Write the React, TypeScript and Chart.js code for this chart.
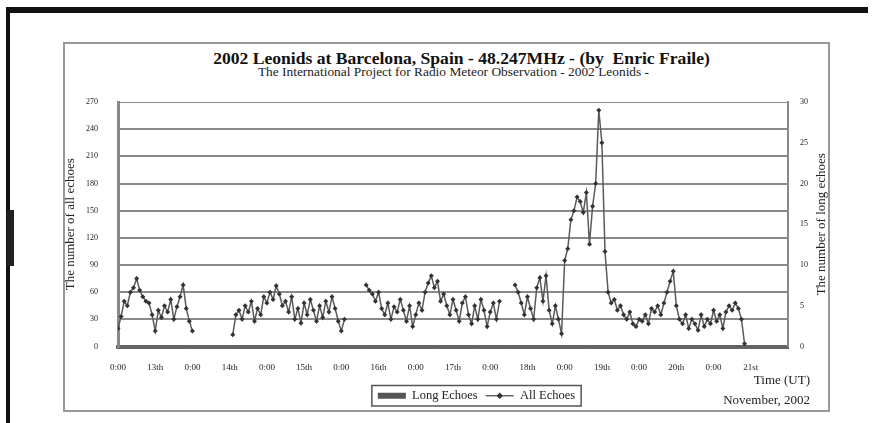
import React, { useEffect, useRef } from 'react';
import { Chart, registerables } from 'chart.js';

Chart.register(...registerables);

// ---- data ----
const xTickLabels = ['0:00', '13th', '0:00', '14th', '0:00', '15th', '0:00', '16th', '0:00', '17th', '0:00', '18th', '0:00', '19th', '0:00', '20th', '0:00', '21st'];
const totalHours = 216;
const leftTicksMax = 270;
const rightTicksMax = 30;
const rightAxisTitle = 'The number of long echoes';

// hour index where each observation run starts (hour 0 = left edge of the axis)
const runStarts = [0, 37, 80, 128];

const allEchoRun1 = [20, 33, 50, 45, 60, 65, 75, 62, 55, 50, 48, 35, 17, 40, 32, 45, 38, 52, 30, 44, 55, 68, 42, 28, 17];
const allEchoRun2 = [13, 35, 40, 30, 45, 38, 50, 28, 42, 35, 55, 48, 60, 52, 67, 58, 45, 50, 38, 55, 30, 42, 26, 48, 35, 52, 40, 28, 45, 32, 50, 38, 55, 42, 28, 17, 30];
const allEchoRun3 = [68, 62, 58, 50, 60, 42, 35, 48, 30, 44, 38, 52, 40, 28, 45, 22, 35, 48, 40, 60, 70, 78, 65, 72, 50, 58, 45, 35, 52, 40, 28, 48, 55, 35, 25, 45, 30, 52, 40, 22, 38, 48, 30, 50];
const allEchoRun4 = [68, 60, 48, 35, 55, 42, 30, 65, 76, 50, 78, 40, 25, 45, 30, 14, 95, 108, 140, 150, 165, 160, 148, 170, 113, 155, 180, 261, 225, 105, 60, 48, 52, 40, 45, 35, 30, 38, 25, 22, 30, 28, 35, 25, 42, 38, 45, 35, 48, 60, 72, 83, 45, 30, 25, 35, 20, 30, 25, 18, 35, 22, 30, 25, 40, 28, 35, 20, 38, 45, 40, 48, 42, 30, 3];

const longEchoRun1 = [0, 0, 0, 0, 0, 0, 0, 0, 0, 0, 0, 0, 0, 0, 0, 0, 0, 0, 0, 0, 0, 0, 0, 0, 0];
const longEchoRun2 = [0, 0, 0, 0, 0, 0, 0, 0, 0, 0, 0, 0, 0, 0, 0, 0, 0, 0, 0, 0, 0, 0, 0, 0, 0, 0, 0, 0, 0, 0, 0, 0, 0, 0, 0, 0, 0];
const longEchoRun3 = [0, 0, 0, 0, 0, 0, 0, 0, 0, 0, 0, 0, 0, 0, 0, 0, 0, 0, 0, 0, 0, 0, 0, 0, 0, 0, 0, 0, 0, 0, 0, 0, 0, 0, 0, 0, 0, 0, 0, 0, 0, 0, 0, 0];
const longEchoRun4 = [0, 0, 0, 0, 0, 0, 0, 0, 0, 0, 0, 0, 0, 0, 0, 0, 0, 0, 0, 0, 0, 0, 0, 0, 0, 0, 0, 0, 0, 0, 0, 0, 0, 0, 0, 0, 0, 0, 0, 0, 0, 0, 0, 0, 0, 0, 0, 0, 0, 0, 0, 0, 0, 0, 0, 0, 0, 0, 0, 0, 0, 0, 0, 0, 0, 0, 0, 0, 0, 0, 0, 0, 0, 0, 0];

const allEchoRuns = [allEchoRun1, allEchoRun2, allEchoRun3, allEchoRun4];
const longEchoRuns = [longEchoRun1, longEchoRun2, longEchoRun3, longEchoRun4];

function buildLine(runs: number[][]) {
  const pts: { x: number; y: number | null }[] = [];
  runs.forEach((run, r) => {
    if (r > 0) pts.push({ x: runStarts[r] - 0.5, y: null });
    run.forEach((v, i) => pts.push({ x: runStarts[r] + i, y: v }));
  });
  return pts;
}
function buildBars(runs: number[][]) {
  const pts: { x: number; y: number }[] = [];
  runs.forEach((run, r) => run.forEach((v, i) => pts.push({ x: runStarts[r] + i, y: v })));
  return pts;
}

const SERIF = '"Liberation Serif", "DejaVu Serif", "Times New Roman", serif';

const legendPlugin = {
  id: 'legendTweak',
  afterLayout(chart: any) {
    const lg = chart.legend;
    if (lg) {
      lg.left += 30;
      lg.right += 30;
    }
  },
  afterDraw(chart: any) {
    const ctx = chart.ctx;
    // right axis title, reading bottom-to-top
    const s = chart.scales.y1;
    if (s) {
      ctx.save();
      ctx.translate(s.right - 8, (s.top + s.bottom) / 2);
      ctx.rotate(-Math.PI / 2);
      ctx.font = `13px ${SERIF}`;
      ctx.fillStyle = '#222';
      ctx.textAlign = 'center';
      ctx.textBaseline = 'middle';
      ctx.fillText(rightAxisTitle, 0, 0);
      ctx.restore();
    }
    const lg = chart.legend;
    if (!lg || !lg.legendHitBoxes || !lg.legendHitBoxes.length) return;
    const boxes = lg.legendHitBoxes;
    let minL = Infinity, maxR = -Infinity, top = Infinity, bottom = -Infinity;
    boxes.forEach((b: any) => {
      minL = Math.min(minL, b.left);
      maxR = Math.max(maxR, b.left + b.width);
      top = Math.min(top, b.top);
      bottom = Math.max(bottom, b.top + b.height);
    });
    ctx.save();
    ctx.strokeStyle = '#555';
    ctx.lineWidth = 1.5;
    ctx.strokeRect(minL - 6, top - 4, maxR - minL + 12, bottom - top + 8);
    const b = boxes[1];
    const y = b.top + b.height / 2;
    ctx.strokeStyle = '#444';
    ctx.lineWidth = 1.2;
    ctx.beginPath();
    ctx.moveTo(b.left, y);
    ctx.lineTo(b.left + 28, y);
    ctx.stroke();
    ctx.fillStyle = '#333';
    const cx = b.left + 14;
    ctx.beginPath();
    ctx.moveTo(cx, y - 3.2);
    ctx.lineTo(cx + 3.2, y);
    ctx.lineTo(cx, y + 3.2);
    ctx.lineTo(cx - 3.2, y);
    ctx.closePath();
    ctx.fill();
    ctx.restore();
  },
};

export default function App() {
  const ref = useRef<HTMLCanvasElement | null>(null);

  useEffect(() => {
    if (!ref.current) return;
    const chart = new Chart(ref.current, {
      type: 'line',
      data: {
        datasets: [
          {
            type: 'bar',
            label: 'Long Echoes',
            data: buildBars(longEchoRuns) as any,
            yAxisID: 'y1',
            backgroundColor: '#555',
            borderWidth: 0,
            barPercentage: 1,
            categoryPercentage: 1,
          },
          {
            type: 'line',
            label: 'All Echoes',
            data: buildLine(allEchoRuns) as any,
            yAxisID: 'y',
            borderColor: '#5a5a5a',
            borderWidth: 1.5,
            pointStyle: 'rectRot',
            pointRadius: 2.5,
            pointBackgroundColor: '#333',
            pointBorderColor: '#333',
            pointBorderWidth: 0,
            spanGaps: false,
            tension: 0,
          },
        ],
      },
      options: {
        responsive: false,
        animation: false,
        events: [],
        layout: { padding: { top: 60, left: 0, right: 0, bottom: 0 } },
        plugins: {
          title: { display: false },
          tooltip: { enabled: false },
          legend: {
            display: true,
            position: 'bottom',
            labels: {
              font: { family: SERIF, size: 12.5 },
              color: '#222',
              boxWidth: 28,
              boxHeight: 6,
              padding: 8,
              generateLabels: (c: any) => {
                const items = (Chart as any).defaults.plugins.legend.labels.generateLabels(c);
                items.forEach((it: any, i: number) => {
                  if (i === 1) {
                    it.fillStyle = 'rgba(0,0,0,0)';
                    it.strokeStyle = 'rgba(0,0,0,0)';
                    it.lineWidth = 0;
                  } else {
                    it.fillStyle = '#555';
                    it.strokeStyle = '#555';
                    it.lineWidth = 0;
                  }
                });
                return items;
              },
            },
          },
        },
        scales: {
          x: {
            type: 'linear',
            min: 0,
            max: totalHours,
            offset: false,
            grid: { display: false, drawTicks: false },
            border: { color: '#666', width: 4 },
            ticks: {
              stepSize: 12,
              autoSkip: false,
              maxRotation: 0,
              padding: 16,
              color: '#222',
              font: { family: SERIF, size: 9 },
              callback: (v: any) => xTickLabels[Math.round(Number(v) / 12)] ?? '',
            },
            afterFit: (s: any) => {
              s.height = 35;
            },
          },
          y: {
            type: 'linear',
            position: 'left',
            min: 0,
            max: leftTicksMax,
            grid: {
              color: '#8a8a8a',
              lineWidth: (c: any) => (c.tick && c.tick.value === leftTicksMax ? 1 : 2),
              drawTicks: false,
            },
            border: { color: '#888', width: 3 },
            ticks: {
              stepSize: 30,
              padding: 20,
              color: '#222',
              font: { family: SERIF, size: 8 },
            },
            title: {
              display: true,
              text: 'The number of all echoes',
              color: '#222',
              font: { family: SERIF, size: 13 },
              padding: { top: 0, bottom: 0 },
            },
            afterFit: (s: any) => {
              s.width = 55;
            },
          },
          y1: {
            type: 'linear',
            position: 'right',
            min: 0,
            max: rightTicksMax,
            grid: { display: false, drawTicks: false },
            border: { color: '#888', width: 2 },
            ticks: {
              stepSize: 5,
              padding: 12,
              color: '#222',
              font: { family: SERIF, size: 8 },
            },
            afterFit: (s: any) => {
              s.width = 42;
            },
          },
        },
      } as any,
      plugins: [legendPlugin],
    });
    return () => chart.destroy();
  }, []);

  return (
    <div style={{ position: 'absolute', left: 0, top: 0, width: 874, height: 423, background: '#fff', overflow: 'hidden', fontFamily: SERIF }}>
      <div style={{ position: 'absolute', left: 6, top: 7, width: 862, height: 6, background: '#111' }} />
      <div style={{ position: 'absolute', left: 6, top: 7, width: 4, height: 416, background: '#111' }} />
      <div style={{ position: 'absolute', left: 7, top: 210, width: 7, height: 56, background: '#222' }} />
      <div style={{ position: 'absolute', left: 63, top: 42, width: 767, height: 370, border: '2px solid #999', boxSizing: 'border-box' }} />
      <div style={{ position: 'absolute', left: 63, top: 49, width: 767, paddingLeft: 30, boxSizing: 'border-box', textAlign: 'center', fontSize: 17.6, lineHeight: '18px', fontWeight: 'bold', color: '#111', whiteSpace: 'nowrap' }}>
        2002 Leonids at Barcelona, Spain - 48.247MHz - (by&nbsp; Enric Fraile)
      </div>
      <div style={{ position: 'absolute', left: 63, top: 65, width: 767, paddingLeft: 14, boxSizing: 'border-box', textAlign: 'center', fontSize: 13.4, lineHeight: '14px', color: '#222', whiteSpace: 'nowrap' }}>
        The International Project for Radio Meteor Observation - 2002 Leonids -
      </div>
      <canvas ref={ref} width={767} height={370} style={{ position: 'absolute', left: 63, top: 42, width: 767, height: 370 }} />
      <div style={{ position: 'absolute', right: 64, top: 373, fontSize: 13, lineHeight: '14px', color: '#222', whiteSpace: 'nowrap' }}>Time (UT)</div>
      <div style={{ position: 'absolute', right: 64, top: 393, fontSize: 13, lineHeight: '14px', color: '#222', whiteSpace: 'nowrap' }}>November, 2002</div>
    </div>
  );
}
